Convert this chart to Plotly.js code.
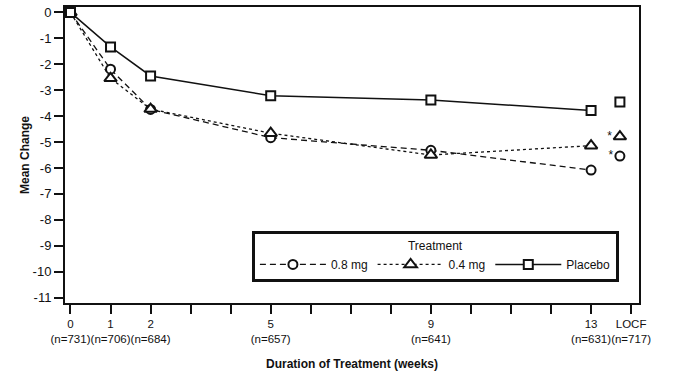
<!DOCTYPE html>
<html>
<head>
<meta charset="utf-8">
<script src="https://cdn.plot.ly/plotly-3.0.1.min.js"></script>
<style>html,body{margin:0;padding:0;background:#fff}#chart{width:678px;height:372px}</style>
</head>
<body>
<div id="chart"></div>
<script>
// Data (weeks; LOCF plotted just left of its tick)
const weeks = [0, 1, 2, 5, 9, 13];
const locfX = [13.72];
const mg08 = [0, -2.19, -3.74, -4.83, -5.32, -6.08];
const mg04 = [0, -2.54, -3.73, -4.66, -5.50, -5.14];
const placebo = [0, -1.33, -2.45, -3.21, -3.38, -3.78];
const mg08Locf = [-5.54];
const mg04Locf = [-4.79];
const placeboLocf = [-3.46];
const seriesNames = ['0.8 mg', '0.4 mg', 'Placebo'];
const tickVals = [0,1,2,3,4,5,6,7,8,9,10,11,12,13,14];
const tickText = ['0<br>(n=731)','1<br>(n=706)','2<br>(n=684)','','','5<br>(n=657)','','','','9<br>(n=641)','','','','13<br>(n=631)','LOCF<br>(n=717)'];
const yTicks = [0,-1,-2,-3,-4,-5,-6,-7,-8,-9,-10,-11];
const yTickText = ['0','-1','-2','-3','-4','-5','-6','-7','-8','-9','-10','-11'];

const black = '#111';
const mk = (sym, size) => ({symbol: sym, size: size, color: '#fff', line: {color: black, width: 2}});

const traces = [
  {x: weeks, y: mg08, name: seriesNames[0], mode: 'lines+markers',
   line: {color: black, width: 1.3, dash: '6px,4px'}, marker: mk('circle', 9)},
  {x: weeks, y: mg04, name: seriesNames[1], mode: 'lines+markers',
   line: {color: black, width: 1.3, dash: 'dot'}, marker: mk('triangle-up', 11)},
  {x: weeks, y: placebo, name: seriesNames[2], mode: 'lines+markers',
   line: {color: black, width: 1.5}, marker: mk('square', 9)},
  {x: locfX, y: mg08Locf, mode: 'markers+text', showlegend: false, text: ['*'], textposition: 'middle left',
   textfont: {size: 12, color: black}, marker: mk('circle', 9)},
  {x: locfX, y: mg04Locf, mode: 'markers+text', showlegend: false, text: ['*'], textposition: 'middle left',
   textfont: {size: 12, color: black}, marker: mk('triangle-up', 11)},
  {x: locfX, y: placeboLocf, mode: 'markers', showlegend: false, marker: mk('square', 9)}
];

const layout = {
  width: 678, height: 372,
  margin: {l: 64.5, r: 39, t: 7, b: 69.3},
  paper_bgcolor: '#fff', plot_bgcolor: '#fff',
  font: {family: '"Liberation Sans", Arial, sans-serif', size: 12, color: black},
  showlegend: true,
  xaxis: {
    range: [-0.137, 14.197], tickmode: 'array', tickvals: tickVals, ticktext: tickText,
    tickangle: 0, ticks: 'outside', ticklen: 9, tickwidth: 2, tickcolor: black,
    showline: true, mirror: true, linewidth: 2, linecolor: black,
    showgrid: false, zeroline: false, tickfont: {size: 11.5},
    title: {text: '<b>Duration of Treatment (weeks)</b>', font: {size: 12}, standoff: 16}
  },
  yaxis: {
    range: [-11.21, 0.21], tickmode: 'array', tickvals: yTicks, ticktext: yTickText,
    ticks: 'outside', ticklen: 9, tickwidth: 2, tickcolor: black,
    showline: true, mirror: true, linewidth: 2, linecolor: black,
    showgrid: false, zeroline: false, tickfont: {size: 13},
    title: {text: '<b>Mean Change</b>', font: {size: 12}, standoff: 0}
  },
  legend: {
    orientation: 'h', x: 0.965, xanchor: 'right', y: 0.07, yanchor: 'bottom',
    bordercolor: black, borderwidth: 3, bgcolor: '#fff',
    font: {size: 12}, itemwidth: 66,
    title: {text: 'Treatment', side: 'top center', font: {size: 12}}
  }
};

Plotly.newPlot('chart', traces, layout, {displayModeBar: false, staticPlot: true});
</script>
</body>
</html>
